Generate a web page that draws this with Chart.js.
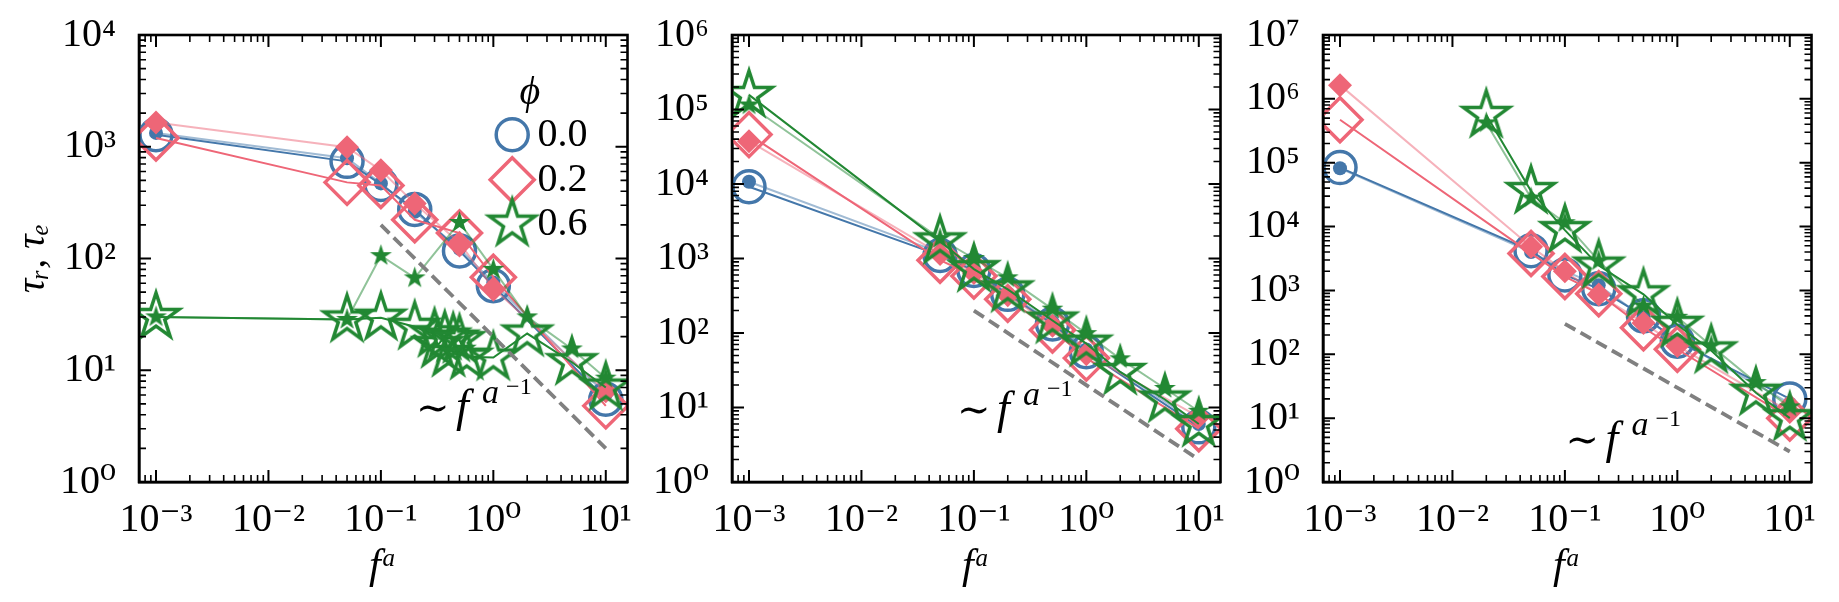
<!DOCTYPE html>
<html>
<head>
<meta charset="utf-8">
<script src="https://cdn.jsdelivr.net/npm/chart.js@4.4.1/dist/chart.umd.min.js"></script>
<style>
  html, body { margin: 0; padding: 0; background: #fff; }
  #wrap { position: relative; width: 1839px; height: 602px; overflow: hidden; background: #fff; }
  #wrap canvas { position: absolute; top: 0; }
</style>
</head>
<body>
<div id="wrap">
  <canvas id="c0" width="655" height="602" style="left:0px"></canvas>
  <canvas id="c1" width="655" height="602" style="left:593px"></canvas>
  <canvas id="c2" width="655" height="602" style="left:1184px"></canvas>
</div>
<script>
// --- data ---

// x values (f^a)
const xMain  = [0.001, 0.05, 0.1, 0.2, 0.5, 1, 10];
const xStar  = [0.001, 0.05, 0.1, 0.2, 0.5, 1, 2, 5, 10];
const xStar1 = [0.001, 0.05, 0.1, 0.2, 0.3, 0.32, 0.37, 0.4, 0.44, 0.5, 0.58, 1, 2, 5, 10];
const xStar3 = [0.02, 0.05, 0.1, 0.2, 0.5, 1, 2, 5, 10];

// panel 1
const p1BlueOpen    = [1280, 740, 460, 275, 117, 57, 5.5];
const p1BlueFilled  = [1330, 790, 470, 262, 122, 61, 6.1];
const p1PinkOpen    = [1200, 480, 450, 222, 169, 68, 4.8];
const p1PinkFilled  = [1650, 990, 615, 310, 138, 54, 6.5];
const p1GreenOpen   = [30, 28.5, 29.5, 24.5, 21, 16.8, 20, 14, 19.2, 18.6, 13.2, 13, 21.3, 11.8, 7.0];
const p1GreenFilled = [30, 28.5, 106, 67, 210, 80, 30, 15.5, 8.5];

// panel 2
const p2BlueOpen    = [9200, 1100, 690, 330, 132, 56, 5.5];
const p2BlueFilled  = [10700, 1200, 720, 340, 140, 60, 6.0];
const p2PinkOpen    = [46000, 950, 580, 284, 110, 46, 5.2];
const p2PinkFilled  = [37500, 1150, 640, 320, 125, 52, 7.5];
const p2GreenOpen   = [157000, 1700, 720, 385, 147, 72, 30, 12.8, 6.0];
const p2GreenFilled = [115000, 1850, 1000, 550, 209, 98, 45, 18, 8.9];

// panel 3
const p3BlueOpen    = [84000, 4200, 1750, 1060, 400, 160, 20];
const p3BlueFilled  = [82000, 4000, 2000, 1200, 380, 165, 17];
const p3PinkOpen    = [470000, 3800, 1650, 890, 260, 120, 10];
const p3PinkFilled  = [1640000, 4850, 2000, 860, 310, 135, 12.5];
const p3GreenOpen   = [560000, 36000, 8800, 2450, 870, 290, 115, 25, 10];
const p3GreenFilled = [420000, 28000, 11500, 2900, 570, 380, 136, 36, 15];

// guide line ~ f^(a^-1)
const guideX   = [0.1, 10];
const guideY12 = [200, 2];
const guideY3  = [300, 3];

// axes
const xLimits = [7.06e-4, 15.6];
const xTicks  = [1e-3, 1e-2, 1e-1, 1, 10];
const yTicks1 = [1, 10, 100, 1e3, 1e4];
const yTicks2 = [1, 10, 100, 1e3, 1e4, 1e5, 1e6];
const yTicks3 = [1, 10, 100, 1e3, 1e4, 1e5, 1e6, 1e7];

const legendLabels = ['0.0', '0.2', '0.6'];

// --- styling ---
const BLUE = '#4477AA', PINK = '#EE6677', GREEN = '#228833';
const SERIF = '"Liberation Serif", "DejaVu Serif", serif';

// marker sizes (open / filled)
const R_CIRCLE = [16, 7];
const R_DIAMOND = [22, 12];
const R_STAR = [24, 11.5];

function fade(hex, a) {
    const n = parseInt(hex.slice(1), 16);
    return `rgba(${n >> 16},${(n >> 8) & 255},${n & 255},${a})`;
}

function starPath(ctx, cx, cy, R) {
    const r = R * 0.381966;
    ctx.beginPath();
    for (let i = 0; i < 10; i++) {
        const ang = -Math.PI / 2 + i * Math.PI / 5;
        const rad = i % 2 ? r : R;
        ctx.lineTo(cx + rad * Math.cos(ang), cy + rad * Math.sin(ang));
    }
    ctx.closePath();
}

// chart.js has no 5-point star, so build one as an image
function makeStar(R, lw, color, open) {
    const c = document.createElement('canvas');
    const s = Math.ceil(2 * (R + lw * 2 + 1));
    c.width = c.height = s;
    const ctx = c.getContext('2d');
    starPath(ctx, s / 2, s / 2, R);
    if (open) {
        ctx.lineWidth = lw;
        ctx.lineJoin = 'miter';
        ctx.miterLimit = 10;
        ctx.strokeStyle = color;
        ctx.stroke();
    } else {
        ctx.fillStyle = color;
        ctx.fill();
    }
    return c;
}
const starOpen = makeStar(R_STAR[0], 3.5, GREEN, true);
const starFilled = makeStar(R_STAR[1], 0, GREEN, false);

function makeDataset(xs, ys, color, shape, open) {
    const k = open ? 0 : 1;
    const ds = {
        data: xs.map((x, i) => ({x: x, y: ys[i]})),
        borderColor: open ? color : fade(color, 0.5),
        borderWidth: 2,
        fill: false,
        tension: 0,
        clip: 0,
        pointBorderColor: color,
        pointBackgroundColor: open ? 'rgba(0,0,0,0)' : color,
        pointBorderWidth: open ? 3.5 : 0,
        pointHoverRadius: 0
    };
    if (shape === 'star') {
        ds.pointStyle = open ? starOpen : starFilled;
        ds.pointRadius = R_STAR[k];
    } else if (shape === 'circle') {
        ds.pointStyle = 'circle';
        ds.pointRadius = R_CIRCLE[k];
    } else {
        ds.pointStyle = 'rectRot';
        ds.pointRadius = R_DIAMOND[k];
    }
    return ds;
}

const SUP = {'0':'⁰','1':'¹','2':'²','3':'³','4':'⁴','5':'⁵','6':'⁶','7':'⁷','8':'⁸','9':'⁹','-':'⁻'};
function powLabel(v) {
    const e = Math.round(Math.log10(v));
    return '10' + String(e).split('').map(ch => SUP[ch]).join('');
}

// inward ticks on all four sides + full frame (matplotlib style)
const framePlugin = {
    id: 'frame',
    afterDatasetsDraw(chart) {
        const {ctx, chartArea: a} = chart;
        const sx = chart.scales.x, sy = chart.scales.y;
        ctx.save();
        ctx.strokeStyle = '#000';
        function ticks(scale, horizontal) {
            const lo = Math.floor(Math.log10(scale.min));
            const hi = Math.ceil(Math.log10(scale.max));
            for (let e = lo; e <= hi; e++) {
                for (let d = 1; d <= 9; d++) {
                    const v = d * Math.pow(10, e);
                    if (v < scale.min * 0.9999 || v > scale.max * 1.0001) continue;
                    const p = scale.getPixelForValue(v);
                    const len = d === 1 ? 12 : 7;
                    ctx.lineWidth = d === 1 ? 2 : 1.6;
                    ctx.beginPath();
                    if (horizontal) {
                        ctx.moveTo(p, a.bottom); ctx.lineTo(p, a.bottom - len);
                        ctx.moveTo(p, a.top); ctx.lineTo(p, a.top + len);
                    } else {
                        ctx.moveTo(a.left, p); ctx.lineTo(a.left + len, p);
                        ctx.moveTo(a.right, p); ctx.lineTo(a.right - len, p);
                    }
                    ctx.stroke();
                }
            }
        }
        ticks(sx, true);
        ticks(sy, false);
        ctx.lineWidth = 2.6;
        ctx.strokeRect(a.left, a.top, a.right - a.left, a.bottom - a.top);
        ctx.restore();
    }
};

// the "~ f^{a^-1}" note beside the guide line
const notePlugin = {
    id: 'note',
    afterDatasetsDraw(chart, args, opts) {
        if (!opts || !opts.at) return;
        const ctx = chart.ctx;
        const x0 = chart.scales.x.getPixelForValue(opts.at[0]);
        const y0 = chart.scales.y.getPixelForValue(opts.at[1]);
        ctx.save();
        ctx.fillStyle = '#000';
        ctx.textBaseline = 'alphabetic';
        ctx.textAlign = 'left';
        ctx.font = '40px ' + SERIF;
        ctx.fillText('∼', x0, y0);
        ctx.font = 'italic 46px ' + SERIF;
        ctx.fillText('f', x0 + 40, y0);
        ctx.font = 'italic 34px ' + SERIF;
        ctx.fillText('a', x0 + 66, y0 - 18);
        ctx.font = '24px ' + SERIF;
        ctx.fillText('−1', x0 + 90, y0 - 27);
        ctx.restore();
    }
};

// legend drawn inside panel 1
const legendPlugin = {
    id: 'phiLegend',
    afterDatasetsDraw(chart, args, opts) {
        if (!opts || !opts.show) return;
        const {ctx, chartArea: a} = chart;
        const w = a.right - a.left, h = a.bottom - a.top;
        const mx = a.left + 0.764 * w;
        const tx = a.left + 0.816 * w;
        const rows = [0.223, 0.324, 0.422].map(f => a.top + f * h);
        ctx.save();
        ctx.fillStyle = '#000';
        ctx.textBaseline = 'middle';
        ctx.textAlign = 'center';
        ctx.font = 'italic 40px ' + SERIF;
        ctx.fillText('ϕ', a.left + 0.80 * w, a.top + 0.13 * h);
        ctx.lineWidth = 3.5;
        ctx.strokeStyle = BLUE;
        ctx.beginPath(); ctx.arc(mx, rows[0], R_CIRCLE[0], 0, Math.PI * 2); ctx.stroke();
        const d = R_DIAMOND[0];
        ctx.strokeStyle = PINK;
        ctx.beginPath();
        ctx.moveTo(mx - d, rows[1]); ctx.lineTo(mx, rows[1] - d);
        ctx.lineTo(mx + d, rows[1]); ctx.lineTo(mx, rows[1] + d);
        ctx.closePath(); ctx.stroke();
        ctx.drawImage(starOpen, mx - starOpen.width / 2, rows[2] - starOpen.height / 2);
        ctx.textAlign = 'left';
        ctx.font = '40px ' + SERIF;
        legendLabels.forEach((t, i) => ctx.fillText(t, tx, rows[i] + 1));
        ctx.restore();
    }
};

function buildChart(id, p) {
    const datasets = [
        makeDataset(xMain, p.blue[0], BLUE, 'circle', true),
        makeDataset(xMain, p.blue[1], BLUE, 'circle', false),
        makeDataset(xMain, p.pink[0], PINK, 'diamond', true),
        makeDataset(xMain, p.pink[1], PINK, 'diamond', false),
        makeDataset(p.greenX[0], p.green[0], GREEN, 'star', true),
        makeDataset(p.greenX[1], p.green[1], GREEN, 'star', false),
        {
            data: guideX.map((x, i) => ({x: x, y: p.guide[i]})),
            borderColor: '#808080', borderWidth: 3.8, borderDash: [12, 6],
            pointRadius: 0, fill: false, clip: 0
        }
    ];
    // later series on top, like matplotlib
    datasets.forEach((d, i) => { d.order = datasets.length - 1 - i; });

    return new Chart(document.getElementById(id), {
        type: 'line',
        data: {datasets: datasets},
        plugins: [framePlugin, notePlugin, legendPlugin],
        options: {
            responsive: false,
            maintainAspectRatio: false,
            animation: false,
            devicePixelRatio: 1,
            layout: {padding: {top: 29, right: 22, bottom: 0, left: 0}},
            plugins: {
                legend: {display: false},
                tooltip: {enabled: false},
                note: {at: p.note},
                phiLegend: {show: p.legend}
            },
            scales: {
                x: {
                    type: 'logarithmic',
                    position: 'bottom',
                    min: xLimits[0], max: xLimits[1],
                    afterBuildTicks: s => { s.ticks = xTicks.map(v => ({value: v})); },
                    afterFit: s => { s.height = 120; },
                    grid: {display: false},
                    border: {display: true, color: '#000', width: 2.6},
                    ticks: {
                        callback: v => powLabel(v),
                        autoSkip: false, maxRotation: 0, padding: 10,
                        color: '#000',
                        font: {family: SERIF, size: 40, lineHeight: 1}
                    },
                    title: {
                        display: true, text: 'fᵃ', color: '#000',
                        font: {family: SERIF, size: 42, style: 'italic', lineHeight: 1},
                        padding: {top: 0, bottom: 14}
                    }
                },
                y: {
                    type: 'logarithmic',
                    position: 'left',
                    min: 1, max: p.yMax,
                    afterBuildTicks: s => { s.ticks = p.yTicks.map(v => ({value: v})); },
                    afterFit: s => { s.width = 139; },
                    grid: {display: false},
                    border: {display: true, color: '#000', width: 2.6},
                    ticks: {
                        callback: v => powLabel(v),
                        autoSkip: false, padding: 15,
                        color: '#000',
                        font: {family: SERIF, size: 40, lineHeight: 1}
                    },
                    title: {
                        display: p.yTitle, text: 'τᵣ, τₑ', color: '#000',
                        font: {family: SERIF, size: 40, style: 'italic', lineHeight: 1},
                        padding: {top: 13, bottom: 0}
                    }
                }
            }
        }
    });
}

buildChart('c0', {
    yMax: 1e4, yTicks: yTicks1,
    blue: [p1BlueOpen, p1BlueFilled], pink: [p1PinkOpen, p1PinkFilled],
    greenX: [xStar1, xStar], green: [p1GreenOpen, p1GreenFilled],
    guide: guideY12, note: [0.2056, 3.52], legend: true, yTitle: true
});
buildChart('c1', {
    yMax: 1e6, yTicks: yTicks2,
    blue: [p2BlueOpen, p2BlueFilled], pink: [p2PinkOpen, p2PinkFilled],
    greenX: [xStar, xStar], green: [p2GreenOpen, p2GreenFilled],
    guide: guideY12, note: [0.0706, 6.19], legend: false, yTitle: false
});
buildChart('c2', {
    yMax: 1e7, yTicks: yTicks3,
    blue: [p3BlueOpen, p3BlueFilled], pink: [p3PinkOpen, p3PinkFilled],
    greenX: [xStar3, xStar3], green: [p3GreenOpen, p3GreenFilled],
    guide: guideY3, note: [0.101, 2.88], legend: false, yTitle: false
});
</script>
</body>
</html>
